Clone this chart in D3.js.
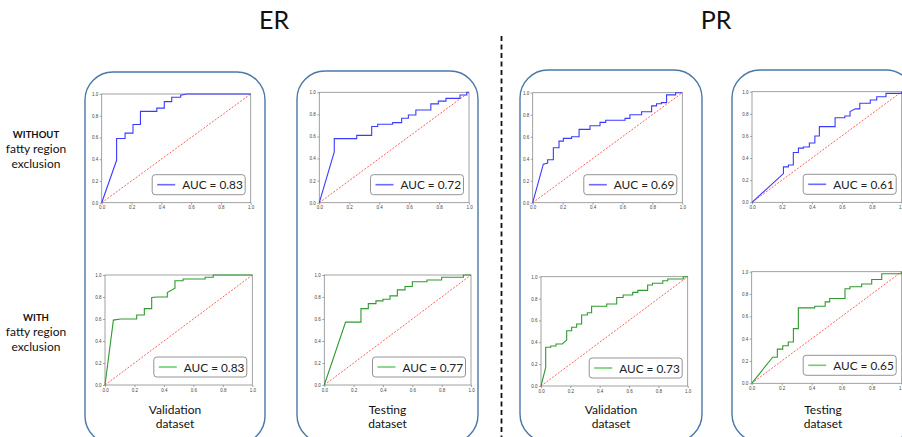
<!DOCTYPE html>
<html>
<head>
<meta charset="utf-8">
<script src="https://cdn.jsdelivr.net/npm/d3@7"></script>
<style>
  body { margin: 0; background: #fff; }
  svg { display: block; font-family: Lato, "Open Sans", sans-serif; }
  .tick text { font-size: 4.5px; fill: #444; }
  .tick line { stroke: #666; stroke-width: 0.6; }
  .domain { display: none; }
</style>
</head>
<body>
<svg id="chart" width="902" height="437"></svg>
<script>
// ROC curves, [false positive rate, true positive rate]
const erValWithout = [[0,0],[0.10,0.39],[0.10,0.59],[0.157,0.59],[0.157,0.64],[0.21,0.64],[0.21,0.72],[0.26,0.72],[0.26,0.84],[0.37,0.84],[0.37,0.87],[0.42,0.87],[0.42,0.93],[0.47,0.93],[0.47,0.97],[0.53,0.97],[0.53,0.99],[0.57,1],[1,1]];
const erTestWithout = [[0,0],[0.10,0.46],[0.10,0.58],[0.25,0.58],[0.25,0.61],[0.35,0.61],[0.35,0.69],[0.39,0.69],[0.39,0.71],[0.49,0.71],[0.49,0.725],[0.55,0.725],[0.55,0.765],[0.595,0.765],[0.595,0.795],[0.645,0.795],[0.645,0.84],[0.745,0.84],[0.745,0.895],[0.795,0.895],[0.795,0.92],[0.846,0.92],[0.846,0.945],[0.94,0.945],[0.94,0.975],[0.985,0.975],[0.985,1],[1,1]];
const prValWithout = [[0,0],[0.071,0.35],[0.10,0.36],[0.10,0.39],[0.138,0.39],[0.138,0.50],[0.176,0.50],[0.176,0.56],[0.205,0.56],[0.205,0.585],[0.26,0.585],[0.26,0.60],[0.31,0.60],[0.31,0.667],[0.383,0.667],[0.383,0.70],[0.45,0.70],[0.45,0.73],[0.488,0.73],[0.488,0.75],[0.617,0.75],[0.617,0.767],[0.65,0.767],[0.65,0.80],[0.728,0.80],[0.728,0.827],[0.795,0.827],[0.795,0.88],[0.828,0.88],[0.828,0.90],[0.86,0.90],[0.86,0.91],[0.895,0.91],[0.895,0.98],[0.955,0.98],[0.955,1],[1,1]];
const prTestWithout = [[0,0],[0.21,0.26],[0.21,0.32],[0.243,0.32],[0.243,0.337],[0.276,0.337],[0.276,0.45],[0.31,0.45],[0.31,0.49],[0.343,0.49],[0.343,0.50],[0.383,0.50],[0.383,0.536],[0.42,0.536],[0.42,0.60],[0.45,0.60],[0.45,0.684],[0.555,0.684],[0.555,0.765],[0.62,0.765],[0.62,0.78],[0.655,0.78],[0.655,0.82],[0.69,0.845],[0.72,0.845],[0.72,0.895],[0.79,0.895],[0.79,0.925],[0.833,0.925],[0.833,0.955],[0.895,0.955],[0.895,0.985],[1,0.985],[1,1]];
const erValWith = [[0,0],[0.057,0.59],[0.106,0.60],[0.215,0.60],[0.215,0.636],[0.267,0.636],[0.267,0.694],[0.317,0.694],[0.317,0.795],[0.355,0.80],[0.423,0.80],[0.423,0.84],[0.475,0.88],[0.475,0.948],[0.53,0.948],[0.53,0.963],[0.68,0.963],[0.68,0.98],[0.735,0.98],[0.735,1],[1,1]];
const erTestWith = [[0,0],[0.145,0.572],[0.25,0.572],[0.25,0.694],[0.30,0.694],[0.30,0.74],[0.352,0.74],[0.352,0.765],[0.40,0.765],[0.40,0.78],[0.448,0.78],[0.448,0.81],[0.498,0.81],[0.498,0.865],[0.55,0.865],[0.55,0.896],[0.60,0.896],[0.60,0.939],[0.70,0.939],[0.70,0.954],[0.80,0.954],[0.80,0.979],[0.948,0.979],[0.948,1],[1,1]];
const prValWith = [[0,0],[0.032,0.17],[0.032,0.354],[0.066,0.354],[0.066,0.366],[0.102,0.366],[0.102,0.384],[0.145,0.384],[0.175,0.42],[0.175,0.506],[0.209,0.506],[0.209,0.537],[0.243,0.537],[0.243,0.567],[0.277,0.567],[0.277,0.65],[0.316,0.65],[0.316,0.67],[0.345,0.67],[0.345,0.73],[0.448,0.73],[0.448,0.75],[0.516,0.75],[0.516,0.81],[0.56,0.81],[0.56,0.832],[0.625,0.832],[0.625,0.857],[0.66,0.857],[0.66,0.875],[0.727,0.875],[0.727,0.924],[0.76,0.924],[0.76,0.94],[0.83,0.94],[0.83,0.963],[0.864,0.963],[0.864,0.979],[0.97,0.979],[0.97,1],[1,1]];
const prTestWith = [[0,0],[0.14,0.234],[0.171,0.234],[0.171,0.306],[0.207,0.306],[0.207,0.336],[0.244,0.336],[0.244,0.37],[0.278,0.37],[0.278,0.49],[0.311,0.49],[0.311,0.676],[0.42,0.676],[0.42,0.69],[0.49,0.69],[0.49,0.73],[0.52,0.73],[0.52,0.76],[0.622,0.76],[0.622,0.847],[0.655,0.847],[0.655,0.865],[0.733,0.865],[0.733,0.89],[0.80,0.89],[0.80,0.93],[0.867,0.93],[0.867,0.982],[1,0.982],[1,1]];

const aucWithout = [0.83, 0.72, 0.69, 0.61];
const aucWith = [0.83, 0.77, 0.73, 0.65];
const tickValues = [0, 0.2, 0.4, 0.6, 0.8, 1.0];
const markers = ['ER', 'PR'];
const datasets = ['Validation', 'Testing', 'Validation', 'Testing'];

// layout of the page (pixels)
const frames = [
  {x: 85, y: 72, w: 180}, {x: 297, y: 71, w: 181},
  {x: 520, y: 70, w: 182}, {x: 732, y: 70, w: 182}
];
const axesTop = [
  {x0: 101.7, x1: 250.7, y0: 94, y1: 202.7},
  {x0: 319.3, x1: 469, y0: 92.3, y1: 202.7},
  {x0: 532.7, x1: 682.3, y0: 92.7, y1: 202.7},
  {x0: 752, x1: 901.7, y0: 91.7, y1: 202.3}
];
const axesBottom = [
  {x0: 105, x1: 252.3, y0: 275, y1: 385},
  {x0: 324.3, x1: 471, y0: 275, y1: 385},
  {x0: 541, x1: 687.7, y0: 276.7, y1: 386},
  {x0: 751.7, x1: 901.7, y0: 271.7, y1: 383.3}
];

const svg = d3.select('#chart');

svg.selectAll('rect.frame')
  .data(frames)
  .join('rect')
  .attr('class', 'frame')
  .attr('x', d => d.x).attr('y', d => d.y)
  .attr('width', d => d.w).attr('height', 372)
  .attr('rx', 28).attr('ry', 28)
  .attr('fill', 'none')
  .attr('stroke', '#4a78a8')
  .attr('stroke-width', 1.4);

svg.selectAll('text.marker')
  .data(markers)
  .join('text')
  .attr('class', 'marker')
  .attr('x', (d, i) => i === 0 ? 274 : 716)
  .attr('y', 29)
  .attr('text-anchor', 'middle')
  .attr('font-size', 25)
  .attr('fill', '#111')
  .text(d => d);

svg.append('line')
  .attr('x1', 501.5).attr('x2', 501.5)
  .attr('y1', 36).attr('y2', 437)
  .attr('stroke', '#111')
  .attr('stroke-width', 1.8)
  .attr('stroke-dasharray', '5,3.5');

// row labels
function rowLabel(y, bold) {
  const t = svg.append('text')
    .attr('x', 36).attr('y', y)
    .attr('text-anchor', 'middle')
    .attr('font-size', 12)
    .attr('fill', '#111');
  t.append('tspan').attr('x', 36).attr('font-weight', 'bold').attr('font-size', 9.5).text(bold);
  t.append('tspan').attr('x', 36).attr('dy', 15).text('fatty region');
  t.append('tspan').attr('x', 36).attr('dy', 15).text('exclusion');
}
rowLabel(138, 'WITHOUT');
rowLabel(321, 'WITH');

// dataset labels under each column
frames.forEach((f, i) => {
  const t = svg.append('text')
    .attr('text-anchor', 'middle')
    .attr('font-size', 12)
    .attr('fill', '#111');
  const cx = f.x + f.w / 2;
  t.append('tspan').attr('x', cx).attr('y', 414).text(datasets[i]);
  t.append('tspan').attr('x', cx).attr('y', 428).text('dataset');
});

function drawPanel(box, curve, auc, color, legendColor) {
  const x = d3.scaleLinear().domain([0, 1]).range([box.x0, box.x1]);
  const y = d3.scaleLinear().domain([0, 1]).range([box.y1, box.y0]);
  const g = svg.append('g');

  g.append('g')
    .attr('transform', 'translate(0,' + box.y1 + ')')
    .call(d3.axisBottom(x).tickValues(tickValues).tickFormat(d3.format('.1f'))
      .tickSize(2).tickPadding(1.5));

  g.append('g')
    .attr('transform', 'translate(' + box.x0 + ',0)')
    .call(d3.axisLeft(y).tickValues(tickValues).tickFormat(d3.format('.1f'))
      .tickSize(2).tickPadding(1.5));

  g.append('rect')
    .attr('x', box.x0).attr('y', box.y0)
    .attr('width', box.x1 - box.x0).attr('height', box.y1 - box.y0)
    .attr('fill', 'none')
    .attr('stroke', '#8a8a8a')
    .attr('stroke-width', 0.8);

  const line = d3.line().x(d => x(d[0])).y(d => y(d[1]));

  g.append('path')
    .datum([[0, 0], [1, 1]])
    .attr('d', line)
    .attr('fill', 'none')
    .attr('stroke', '#ff4d4d')
    .attr('stroke-width', 0.9)
    .attr('stroke-dasharray', '2,1.5');

  g.append('path')
    .datum(curve)
    .attr('d', line)
    .attr('fill', 'none')
    .attr('stroke', color)
    .attr('stroke-width', 1.1);

  // legend
  const lw = 93, lh = 20;
  const lx = box.x1 - 5.5 - lw, ly = box.y1 - 8 - lh;
  g.append('rect')
    .attr('x', lx).attr('y', ly)
    .attr('width', lw).attr('height', lh)
    .attr('rx', 3)
    .attr('fill', '#fff')
    .attr('stroke', '#888')
    .attr('stroke-width', 0.9);
  g.append('line')
    .attr('x1', lx + 5).attr('x2', lx + 23)
    .attr('y1', ly + lh / 2).attr('y2', ly + lh / 2)
    .attr('stroke', legendColor)
    .attr('stroke-width', 1.6);
  g.append('text')
    .attr('x', lx + 30).attr('y', ly + 14.5)
    .attr('font-size', 11.8)
    .attr('fill', '#222')
    .text('AUC = ' + auc.toFixed(2));
}

const curvesWithout = [erValWithout, erTestWithout, prValWithout, prTestWithout];
const curvesWith = [erValWith, erTestWith, prValWith, prTestWith];

axesTop.forEach((b, i) => drawPanel(b, curvesWithout[i], aucWithout[i], '#3b3bff', '#6a6aff'));
axesBottom.forEach((b, i) => drawPanel(b, curvesWith[i], aucWith[i], '#2f9a2f', '#6fcf6f'));
</script>
</body>
</html>
